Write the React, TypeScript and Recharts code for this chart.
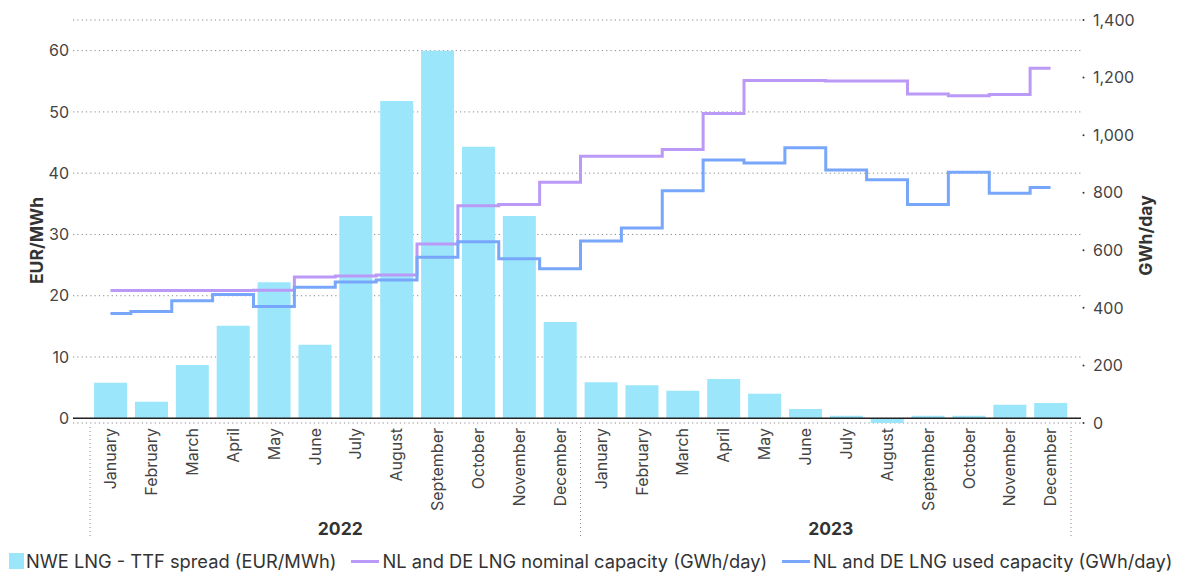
import React from 'react';
import {
  ComposedChart,
  Bar,
  Line,
  XAxis,
  YAxis,
  CartesianGrid,
  ReferenceLine,
  Legend,
} from 'recharts';

// ---------- data ----------
const monthNames = [
  'January', 'February', 'March', 'April', 'May', 'June',
  'July', 'August', 'September', 'October', 'November', 'December',
];
const years = ['2022', '2023'];

// NWE LNG - TTF spread (EUR/MWh)
const spread = [
  5.8, 2.7, 8.7, 15.1, 22.2, 12.0, 33.0, 51.8, 60.0, 44.3, 33.0, 15.7,
  5.9, 5.4, 4.5, 6.4, 4.0, 1.5, 0.4, -0.8, 0.4, 0.4, 2.2, 2.5,
];
// NL and DE LNG nominal capacity (GWh/day)
const nominalCapacity = [
  460, 460, 460, 460, 461, 507, 511, 514, 622, 755, 759, 836,
  927, 927, 950, 1075, 1190, 1190, 1188, 1188, 1143, 1137, 1141, 1232,
];
// NL and DE LNG used capacity (GWh/day)
const usedCapacity = [
  380, 387, 425, 446, 405, 472, 490, 497, 576, 630, 571, 536,
  632, 677, 807, 914, 903, 956, 879, 845, 759, 871, 798, 818,
];

const leftTicks = [0, 10, 20, 30, 40, 50, 60];
const rightTicks = [0, 200, 400, 600, 800, 1000, 1200, 1400];

// ---------- styling ----------
const FONT = 'Inter, "Noto Sans", "DejaVu Sans", sans-serif';
const TEXT = '#444';
const SERIES = [
  { key: 'spread', name: 'NWE LNG - TTF spread (EUR/MWh)', color: '#9be6fa', kind: 'bar' },
  { key: 'nominal', name: 'NL and DE LNG nominal capacity (GWh/day)', color: '#bb99f7', kind: 'line' },
  { key: 'used', name: 'NL and DE LNG used capacity (GWh/day)', color: '#78a6fa', kind: 'line' },
];

const data = years.flatMap((year, yi) =>
  monthNames.map((month, mi) => {
    const i = yi * monthNames.length + mi;
    return {
      month,
      year,
      spread: spread[i],
      nominal: nominalCapacity[i],
      used: usedCapacity[i],
    };
  })
);

const perYear = monthNames.length;
const nCat = years.length * perYear;

// ---------- custom renderers ----------
const MonthTick = (props: any) => {
  const { x, y, payload } = props;
  return (
    <text
      x={x}
      y={y}
      transform={`rotate(-90, ${x}, ${y})`}
      textAnchor="end"
      dy="0.36em"
      fontSize={16}
      fill={TEXT}
      fontFamily={FONT}
    >
      {payload.value}
    </text>
  );
};

// year group axis: dividers at year boundaries, year label at the group centre
const YearTick = (props: any) => {
  const { x, y, payload, index } = props;
  const half = typeof payload.offset === 'number' && payload.offset > 0 ? payload.offset : 0;
  const i = typeof index === 'number' ? index : payload.index;
  const parts: React.ReactNode[] = [];
  const divider = (dx: number, k: string) => (
    <line
      key={k}
      x1={x + dx}
      x2={x + dx}
      y1={y - 86}
      y2={y + 25}
      stroke="#888"
      strokeWidth={1}
      strokeDasharray="1 3"
    />
  );
  if (i % perYear === 0) parts.push(divider(-half, 'l'));
  if (i === nCat - 1) parts.push(divider(half, 'r'));
  if (i % perYear === perYear / 2 - 1) {
    parts.push(
      <text
        key="t"
        x={x + half + 5}
        y={y}
        dy={22}
        textAnchor="middle"
        fontSize={17.5}
        fontWeight={700}
        fill="#333"
        fontFamily={FONT}
      >
        {years[Math.floor(i / perYear)]}
      </text>
    );
  }
  return <g>{parts}</g>;
};

const RightTick = (props: any) => {
  const { x, y, payload } = props;
  return (
    <g>
      <circle cx={x + 2.5} cy={y} r={1} fill="#333" />
      <text
        x={x + 12}
        y={y}
        dy="0.36em"
        textAnchor="start"
        fontSize={16}
        fill={TEXT}
        fontFamily={FONT}
      >
        {Number(payload.value).toLocaleString('en-US')}
      </text>
    </g>
  );
};

const LeftTitle = (props: any) => {
  const { viewBox } = props;
  const cx = viewBox.x + 37;
  const cy = viewBox.y + viewBox.height / 2 + 19;
  return (
    <text
      x={cx}
      y={cy}
      transform={`rotate(-90, ${cx}, ${cy})`}
      textAnchor="middle"
      dy="0.36em"
      fontSize={17.5}
      fontWeight={700}
      fill="#333"
      fontFamily={FONT}
    >
      EUR/MWh
    </text>
  );
};

const RightTitle = (props: any) => {
  const { viewBox } = props;
  const cx = viewBox.x + 65;
  const cy = viewBox.y + viewBox.height / 2 + 14;
  return (
    <text
      x={cx}
      y={cy}
      transform={`rotate(-90, ${cx}, ${cy})`}
      textAnchor="middle"
      dy="0.36em"
      fontSize={17.5}
      fontWeight={700}
      fill="#333"
      fontFamily={FONT}
    >
      GWh/day
    </text>
  );
};

const LegendContent = () => (
  <div
    style={{
      display: 'flex',
      alignItems: 'center',
      fontFamily: FONT,
      fontSize: 18.3,
      color: '#333',
      whiteSpace: 'nowrap',
      paddingLeft: 9,
      lineHeight: '20px',
    }}
  >
    {SERIES.map((s) => (
      <div key={s.key} style={{ display: 'flex', alignItems: 'center', marginRight: 15, flexShrink: 0 }}>
        {s.kind === 'bar' ? (
          <span style={{ display: 'inline-block', width: 15, height: 16, background: s.color, marginRight: 2 }} />
        ) : (
          <span style={{ display: 'inline-block', width: 28, height: 3, background: s.color, marginRight: 3 }} />
        )}
        <span>{s.name}</span>
      </div>
    ))}
  </div>
);

export default function App() {
  return (
    <div style={{ position: 'absolute', left: 0, top: 0, width: 1183, height: 573, background: '#fff' }}>
      <ComposedChart
        width={1183}
        height={573}
        data={data}
        margin={{ top: 20, right: 0, bottom: 0, left: 0 }}
        barCategoryGap="10%"
        style={{ fontFamily: FONT }}
      >
        <CartesianGrid
          yAxisId="left"
          vertical={false}
          stroke="#8a8a8a"
          strokeDasharray="1.2 3.1"
        />
        <XAxis
          dataKey="month"
          xAxisId={0}
          height={90}
          padding={{ left: 17, right: 10 }}
          axisLine={false}
          tickLine={false}
          tickSize={0}
          tickMargin={5}
          interval={0}
          tick={<MonthTick />}
        />
        <XAxis
          dataKey="month"
          xAxisId="yr"
          height={60}
          padding={{ left: 17, right: 10 }}
          axisLine={false}
          tickLine={false}
          tickSize={0}
          tickMargin={0}
          interval={0}
          tick={<YearTick />}
        />
        <YAxis
          yAxisId="left"
          orientation="left"
          width={73}
          domain={[-0.77, 65]}
          allowDataOverflow
          ticks={leftTicks}
          interval={0}
          axisLine={false}
          tickLine={false}
          tickSize={0}
          tickMargin={4}
          tick={{ fontSize: 16, fill: TEXT, fontFamily: FONT }}
          label={<LeftTitle />}
        />
        <YAxis
          yAxisId="right"
          orientation="right"
          width={102}
          domain={[0, 1400]}
          allowDataOverflow
          ticks={rightTicks}
          interval={0}
          axisLine={false}
          tickLine={false}
          tickSize={0}
          tickMargin={0}
          tick={<RightTick />}
          label={<RightTitle />}
        />
        <Bar
          yAxisId="left"
          dataKey="spread"
          name={SERIES[0].name}
          fill={SERIES[0].color}
          isAnimationActive={false}
        />
        <ReferenceLine yAxisId="left" y={0} stroke="#222" strokeWidth={1.6} />
        <Line
          yAxisId="right"
          type="step"
          dataKey="nominal"
          name={SERIES[1].name}
          stroke={SERIES[1].color}
          strokeWidth={3}
          dot={false}
          activeDot={false}
          isAnimationActive={false}
        />
        <Line
          yAxisId="right"
          type="step"
          dataKey="used"
          name={SERIES[2].name}
          stroke={SERIES[2].color}
          strokeWidth={3}
          dot={false}
          activeDot={false}
          isAnimationActive={false}
        />
        <Legend
          layout="vertical"
          verticalAlign="middle"
          align="center"
          content={<LegendContent />}
          wrapperStyle={{ left: 0, top: 551, width: 1183, height: 20 }}
        />
      </ComposedChart>
    </div>
  );
}
